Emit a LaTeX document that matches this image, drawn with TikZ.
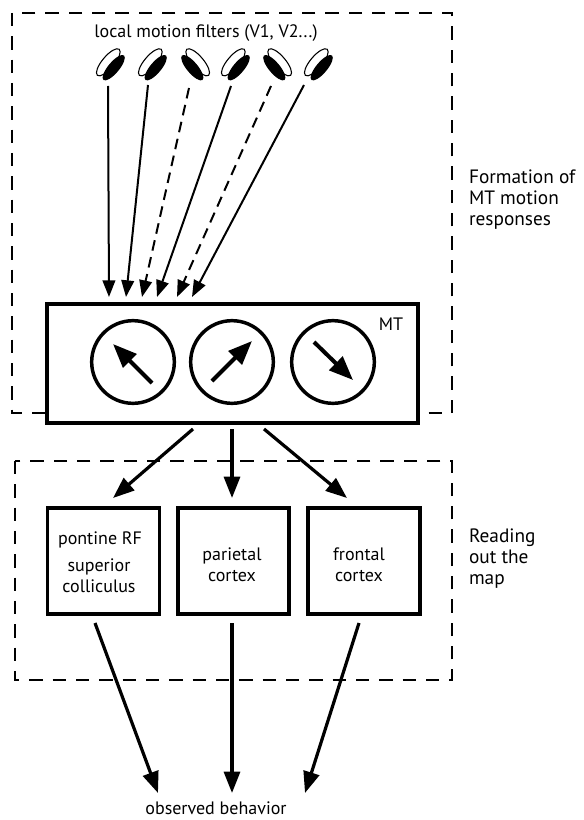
\documentclass[tikz,border=0pt]{standalone}
\usepackage{fontspec}
\setmainfont{PT Sans}
\usetikzlibrary{arrows.meta}
\begin{document}
\begin{tikzpicture}[x=0.75pt,y=-0.75pt,
  every node/.style={inner sep=0pt, outer sep=0pt},
  lbl/.style={font=\fontsize{13.5}{15.5}\selectfont, align=center},
  sidelbl/.style={font=\fontsize{14.5}{15.5}\selectfont, align=left, anchor=north west},
  stageframe/.style={dash pattern=on 10pt off 7.5pt, line width=0.8pt},
  area/.style={draw, line width=2.6pt, fill=white},
  dial/.style={draw, circle, line width=2.6pt, minimum size=62pt},
  dirarrow/.style={line width=3pt, -{Triangle[length=18pt,width=14pt]}},
  feed/.style={line width=1.5pt, -{Triangle[length=12.5pt,width=9.5pt]}},
  feeddash/.style={feed, dash pattern=on 8pt off 5pt},
  outarrow/.style={line width=2.4pt, -{Triangle[length=16pt,width=12pt]}},
  filt/.pic={
    \draw[line width=0.8pt, fill=white, rotate around={50:(-2.7,-2.7)}]
      (-2.7,-2.7) ellipse [x radius=17, y radius=6];
    \fill[rotate around={50:(2.7,2.7)}]
      (2.7,2.7) ellipse [x radius=16, y radius=5.5];
  }
]
\useasboundingbox (0,0) rectangle (584,820);

% dashed stage frames
\draw[stageframe] (12,13) rectangle (452,413);
\draw[stageframe] (15,461) rectangle (452,680);

% stage captions
\node[sidelbl] (capA) at (469,170) {Formation of\\MT motion\\responses};
\node[sidelbl] (capB) at (469,529) {Reading\\out the\\map};

% local motion filters
\node[lbl] (filters) at (206,33) {local motion filters (V1, V2...)};
\pic at (111,65) {filt};
\pic at (153,65) {filt};
\pic[xscale=-1] at (195,65) {filt};
\pic at (236,65) {filt};
\pic[xscale=-1] at (277,65) {filt};
\pic at (319,65) {filt};

% MT map with direction-tuned units
\node[area, minimum width=278pt, minimum height=89pt] (mt) at (232.5,363.5) {};
\node[lbl, anchor=base] (mtlbl) at (391,330) {MT};
\node[dial] (c1) at (133,362) {};
\node[dial] (c2) at (232,362) {};
\node[dial] (c3) at (333,362) {};
\draw[dirarrow] ([shift={(19,21)}]c1.center) -- ([shift={(-20,-18)}]c1.center);
\draw[dirarrow] ([shift={(-20,19)}]c2.center) -- ([shift={(20,-21)}]c2.center);
\draw[dirarrow] ([shift={(-19,-20)}]c3.center) -- ([shift={(20,18)}]c3.center);

% feedforward inputs into MT
\coordinate (s1) at (108,86);  \coordinate (t1) at (109,297);
\coordinate (s2) at (148,85);  \coordinate (t2) at (126,297);
\coordinate (s3) at (189,88);  \coordinate (t3) at (142,297);
\coordinate (s4) at (231,86);  \coordinate (t4) at (157,297);
\coordinate (s5) at (271,86);  \coordinate (t5) at (177,297);
\coordinate (s6) at (304,85);  \coordinate (t6) at (192,297);
\draw[feed] (s1) -- (t1);
\draw[feed] (s2) -- (t2);
\draw[feeddash] (s3) -- (t3);
\draw[feed] (s4) -- (t4);
\draw[feeddash] (s5) -- (t5);
\draw[feed] (s6) -- (t6);

% read-out areas
\node[area, minimum width=84pt, minimum height=79.5pt] (sc) at (103.5,561) {};
\node[area, minimum width=83pt, minimum height=79.5pt] (par) at (233.5,561) {};
\node[area, minimum width=84pt, minimum height=79.5pt] (fro) at (364,561) {};
\node[lbl] (sc1) at (100,540) {pontine RF};
\node[lbl] (sc2) at (99,576) {superior\\colliculus};
\node[lbl] (par1) at (232,565) {parietal\\cortex};
\node[lbl] (fro1) at (359,565) {frontal\\cortex};

% MT to read-out areas
\coordinate (m1) at (193,429);
\coordinate (m2) at (232,429);
\coordinate (m3) at (264,429);
\coordinate (e1) at (113,498);
\coordinate (e2) at (232,498);
\coordinate (e3) at (347,498);
\draw[outarrow] (m1) -- (e1);
\draw[outarrow] (m2) -- (e2);
\draw[outarrow] (m3) -- (e3);

% read-out areas to behaviour
\node[font=\fontsize{13.5}{15.5}\selectfont, anchor=base] (beh) at (216,814) {observed behavior};
\coordinate (b1) at (95,623);
\coordinate (b2) at (232,623);
\coordinate (b3) at (359,623);
\coordinate (r1) at (158,793);
\coordinate (r2) at (232,793);
\coordinate (r3) at (305,793);
\draw[outarrow] (b1) -- (r1);
\draw[outarrow] (b2) -- (r2);
\draw[outarrow] (b3) -- (r3);
\end{tikzpicture}
\end{document}
